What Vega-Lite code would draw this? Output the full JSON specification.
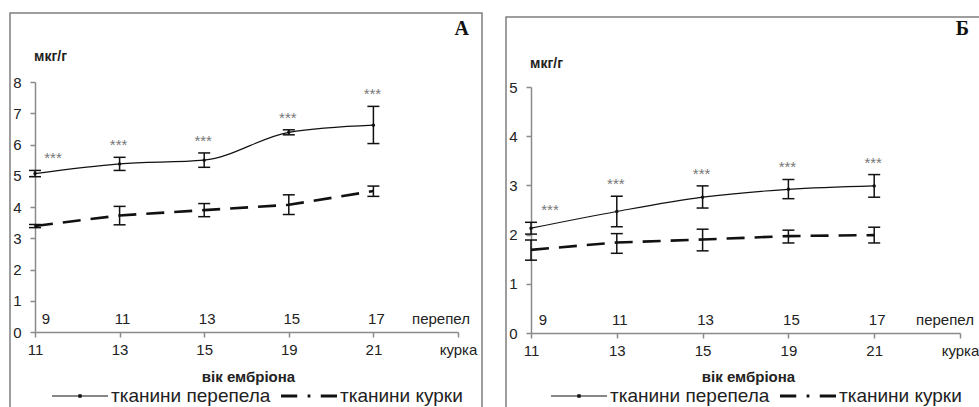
{
  "$schema": "https://vega.github.io/schema/vega-lite/v6.json",
  "padding": {"left": 9, "top": 12, "right": 0, "bottom": 0},
  "bounds": "flush",
  "spacing": 24,
  "center": true,
  "resolve": {"scale": {"x": "independent", "y": "independent", "shape": "independent"}, "legend": {"shape": "independent"}},
  "datasets": {
    "A": [
      {"series": "тканини перепела", "chicken": "11", "quail": "9", "mean": 5.07, "lo": 4.97, "hi": 5.17, "sig": "***"},
      {"series": "тканини перепела", "chicken": "13", "quail": "11", "mean": 5.38, "lo": 5.17, "hi": 5.59, "sig": "***"},
      {"series": "тканини перепела", "chicken": "15", "quail": "13", "mean": 5.5, "lo": 5.27, "hi": 5.73, "sig": "***"},
      {"series": "тканини перепела", "chicken": "19", "quail": "15", "mean": 6.39, "lo": 6.31, "hi": 6.47, "sig": "***"},
      {"series": "тканини перепела", "chicken": "21", "quail": "17", "mean": 6.62, "lo": 6.03, "hi": 7.22, "sig": "***"},
      {"series": "тканини курки", "chicken": "11", "quail": "9", "mean": 3.39, "lo": 3.34, "hi": 3.44},
      {"series": "тканини курки", "chicken": "13", "quail": "11", "mean": 3.73, "lo": 3.43, "hi": 4.02},
      {"series": "тканини курки", "chicken": "15", "quail": "13", "mean": 3.9, "lo": 3.69, "hi": 4.11},
      {"series": "тканини курки", "chicken": "19", "quail": "15", "mean": 4.07, "lo": 3.76, "hi": 4.39},
      {"series": "тканини курки", "chicken": "21", "quail": "17", "mean": 4.51, "lo": 4.34, "hi": 4.67}
    ],
    "B": [
      {"series": "тканини перепела", "chicken": "11", "quail": "9", "mean": 2.13, "lo": 2.01, "hi": 2.25, "sig": "***"},
      {"series": "тканини перепела", "chicken": "13", "quail": "11", "mean": 2.47, "lo": 2.16, "hi": 2.78, "sig": "***"},
      {"series": "тканини перепела", "chicken": "15", "quail": "13", "mean": 2.76, "lo": 2.54, "hi": 2.99, "sig": "***"},
      {"series": "тканини перепела", "chicken": "19", "quail": "15", "mean": 2.92, "lo": 2.73, "hi": 3.12, "sig": "***"},
      {"series": "тканини перепела", "chicken": "21", "quail": "17", "mean": 2.99, "lo": 2.76, "hi": 3.22, "sig": "***"},
      {"series": "тканини курки", "chicken": "11", "quail": "9", "mean": 1.69, "lo": 1.48, "hi": 1.89},
      {"series": "тканини курки", "chicken": "13", "quail": "11", "mean": 1.84, "lo": 1.62, "hi": 2.02},
      {"series": "тканини курки", "chicken": "15", "quail": "13", "mean": 1.9, "lo": 1.67, "hi": 2.11},
      {"series": "тканини курки", "chicken": "19", "quail": "15", "mean": 1.97, "lo": 1.83, "hi": 2.09},
      {"series": "тканини курки", "chicken": "21", "quail": "17", "mean": 1.99, "lo": 1.83, "hi": 2.15}
    ]
  },
  "hconcat": [
    {
      "width": 472,
      "height": 400,
      "title": {"text": "A", "anchor": "end", "frame": "group", "offset": -26, "dx": -13, "font": "Liberation Serif", "fontSize": 20, "fontWeight": "bold", "color": "#111"},
      "data": {"name": "A"},
      "encoding": {
        "x": {"field": "chicken", "type": "ordinal",
          "scale": {"type": "point", "domain": ["11", "13", "15", "19", "21", "курка"], "range": [25, 448], "padding": 0},
          "axis": {"offset": -81, "labelAngle": 0, "labelFlush": false, "labelOverlap": false, "labelPadding": 5,
            "title": "вік ембріона", "titleX": 238, "titleY": 44, "titleAlign": "center", "titleBaseline": "middle", "titleFontSize": 15, "titleFontWeight": "bold"}}
      },
      "layer": [
        {"transform": [{"filter": "datum.series === 'тканини курки'"}],
          "mark": {"type": "line", "color": "#111", "strokeWidth": 2.6, "strokeDash": [18, 10]},
          "encoding": {"y": {"field": "mean", "type": "quantitative", "scale": {"domain": [0, 8], "range": [319, 69], "nice": false, "zero": false},
            "axis": {"values": [0, 1, 2, 3, 4, 5, 6, 7, 8], "format": "d", "offset": -25, "labelPadding": 9, "title": "мкг/г", "titleAngle": 0, "titleX": 15, "titleY": 43, "titleAlign": "center", "titleBaseline": "middle", "titleFontSize": 14, "titleFontWeight": "bold"}}}},
        {"transform": [{"filter": "datum.series === 'тканини перепела'"}],
          "mark": {"type": "line", "interpolate": "monotone", "color": "#111", "strokeWidth": 1.2},
          "encoding": {"y": {"field": "mean", "type": "quantitative", "scale": {"domain": [0, 8], "range": [319, 69], "nice": false, "zero": false}}}},
        {"mark": {"type": "rule", "color": "#111", "strokeWidth": 1.5},
          "encoding": {"y": {"field": "lo", "type": "quantitative", "scale": {"domain": [0, 8], "range": [319, 69], "nice": false, "zero": false}}, "y2": {"field": "hi"}}},
        {"mark": {"type": "tick", "orient": "horizontal", "size": 12, "thickness": 1.5, "color": "#111", "opacity": 1},
          "encoding": {"y": {"field": "lo", "type": "quantitative", "scale": {"domain": [0, 8], "range": [319, 69], "nice": false, "zero": false}}}},
        {"mark": {"type": "tick", "orient": "horizontal", "size": 12, "thickness": 1.5, "color": "#111", "opacity": 1},
          "encoding": {"y": {"field": "hi", "type": "quantitative", "scale": {"domain": [0, 8], "range": [319, 69], "nice": false, "zero": false}}}},
        {"transform": [{"filter": "datum.series === 'тканини перепела'"}],
          "mark": {"type": "circle", "size": 12, "color": "#111", "opacity": 1},
          "encoding": {"y": {"field": "mean", "type": "quantitative", "scale": {"domain": [0, 8], "range": [319, 69], "nice": false, "zero": false}}}},
        {"mark": {"type": "point", "filled": true, "size": 1, "color": "#111", "opacity": 1},
          "encoding": {"y": {"field": "mean", "type": "quantitative", "scale": {"domain": [0, 8], "range": [319, 69], "nice": false, "zero": false}},
            "shape": {"field": "series", "type": "nominal",
              "scale": {"domain": ["тканини перепела", "тканини курки"], "range": ["M-1,-0.02H1V0.02H-1Z M-0.06,-0.06H0.06V0.06H-0.06Z", "M-1,-0.055H-0.42V0.055H-1Z M-0.05,-0.05H0.05V0.05H-0.05Z M0.42,-0.055H1V0.055H0.42Z"]},
              "legend": {"orient": "none", "legendX": 42, "legendY": 355, "direction": "horizontal", "title": null, "labelFontSize": 19, "labelColor": "#222", "labelOffset": 3, "columnPadding": 10, "symbolSize": 3136, "symbolOpacity": 1, "symbolStrokeWidth": 0, "symbolFillColor": "#111", "labelLimit": 400, "padding": 0}}}},
        {"transform": [{"filter": "datum.series === 'тканини перепела' && datum.chicken !== '11'"}],
          "mark": {"type": "text", "dy": -12, "dx": -1, "fontSize": 15, "color": "#777"},
          "encoding": {"y": {"field": "hi", "type": "quantitative", "scale": {"domain": [0, 8], "range": [319, 69], "nice": false, "zero": false}}, "text": {"field": "sig"}}},
        {"transform": [{"filter": "datum.series === 'тканини перепела' && datum.chicken === '11'"}],
          "mark": {"type": "text", "dy": -12, "dx": 18, "fontSize": 15, "color": "#777"},
          "encoding": {"y": {"field": "hi", "type": "quantitative", "scale": {"domain": [0, 8], "range": [319, 69], "nice": false, "zero": false}}, "text": {"field": "sig"}}},
        {"transform": [{"filter": "datum.series === 'тканини перепела' && datum.chicken !== '11'"}],
          "mark": {"type": "text", "dy": -13, "dx": 3, "fontSize": 15, "color": "#222"},
          "encoding": {"y": {"datum": 0, "type": "quantitative", "scale": {"domain": [0, 8], "range": [319, 69], "nice": false, "zero": false}}, "text": {"field": "quail"}}},
        {"transform": [{"filter": "datum.series === 'тканини перепела' && datum.chicken === '11'"}],
          "mark": {"type": "text", "dy": -13, "dx": 11, "fontSize": 15, "color": "#222"},
          "encoding": {"y": {"datum": 0, "type": "quantitative", "scale": {"domain": [0, 8], "range": [319, 69], "nice": false, "zero": false}}, "text": {"field": "quail"}}},
        {"data": {"values": [{"label": "перепел"}]},
          "mark": {"type": "text", "dy": -13, "dx": -17, "fontSize": 15, "color": "#222"},
          "encoding": {"x": {"datum": "курка"}, "y": {"datum": 0, "type": "quantitative", "scale": {"domain": [0, 8], "range": [319, 69], "nice": false, "zero": false}}, "text": {"field": "label"}}}
      ]
    },
    {
      "width": 480,
      "height": 392,
      "title": {"text": "Б", "anchor": "end", "frame": "group", "offset": -22, "dx": -17, "font": "Liberation Serif", "fontSize": 20, "fontWeight": "bold", "color": "#111"},
      "data": {"name": "B"},
      "encoding": {
        "x": {"field": "chicken", "type": "ordinal",
          "scale": {"type": "point", "domain": ["11", "13", "15", "19", "21", "курка"], "range": [25, 454], "padding": 0},
          "axis": {"offset": -76, "labelAngle": 0, "labelFlush": false, "labelOverlap": false, "labelPadding": 5,
            "title": "вік ембріона", "titleX": 242, "titleY": 43, "titleAlign": "center", "titleBaseline": "middle", "titleFontSize": 15, "titleFontWeight": "bold"}}
      },
      "layer": [
        {"transform": [{"filter": "datum.series === 'тканини курки'"}],
          "mark": {"type": "line", "color": "#111", "strokeWidth": 2.6, "strokeDash": [18, 10]},
          "encoding": {"y": {"field": "mean", "type": "quantitative", "scale": {"domain": [0, 5], "range": [316, 70], "nice": false, "zero": false},
            "axis": {"values": [0, 1, 2, 3, 4, 5], "format": "d", "offset": -25, "labelPadding": 9, "title": "мкг/г", "titleAngle": 0, "titleX": 15, "titleY": 46, "titleAlign": "center", "titleBaseline": "middle", "titleFontSize": 14, "titleFontWeight": "bold"}}}},
        {"transform": [{"filter": "datum.series === 'тканини перепела'"}],
          "mark": {"type": "line", "interpolate": "monotone", "color": "#111", "strokeWidth": 1.2},
          "encoding": {"y": {"field": "mean", "type": "quantitative", "scale": {"domain": [0, 5], "range": [316, 70], "nice": false, "zero": false}}}},
        {"mark": {"type": "rule", "color": "#111", "strokeWidth": 1.5},
          "encoding": {"y": {"field": "lo", "type": "quantitative", "scale": {"domain": [0, 5], "range": [316, 70], "nice": false, "zero": false}}, "y2": {"field": "hi"}}},
        {"mark": {"type": "tick", "orient": "horizontal", "size": 12, "thickness": 1.5, "color": "#111", "opacity": 1},
          "encoding": {"y": {"field": "lo", "type": "quantitative", "scale": {"domain": [0, 5], "range": [316, 70], "nice": false, "zero": false}}}},
        {"mark": {"type": "tick", "orient": "horizontal", "size": 12, "thickness": 1.5, "color": "#111", "opacity": 1},
          "encoding": {"y": {"field": "hi", "type": "quantitative", "scale": {"domain": [0, 5], "range": [316, 70], "nice": false, "zero": false}}}},
        {"transform": [{"filter": "datum.series === 'тканини перепела'"}],
          "mark": {"type": "circle", "size": 12, "color": "#111", "opacity": 1},
          "encoding": {"y": {"field": "mean", "type": "quantitative", "scale": {"domain": [0, 5], "range": [316, 70], "nice": false, "zero": false}}}},
        {"mark": {"type": "point", "filled": true, "size": 1, "color": "#111", "opacity": 1},
          "encoding": {"y": {"field": "mean", "type": "quantitative", "scale": {"domain": [0, 5], "range": [316, 70], "nice": false, "zero": false}},
            "shape": {"field": "series", "type": "nominal",
              "scale": {"domain": ["тканини перепела", "тканини курки"], "range": ["M-1,-0.02H1V0.02H-1Z M-0.06,-0.06H0.06V0.06H-0.06Z", "M-1,-0.055H-0.42V0.055H-1Z M-0.05,-0.05H0.05V0.05H-0.05Z M0.42,-0.055H1V0.055H0.42Z"]},
              "legend": {"orient": "none", "legendX": 45, "legendY": 351, "direction": "horizontal", "title": null, "labelFontSize": 19, "labelColor": "#222", "labelOffset": 3, "columnPadding": 10, "symbolSize": 3136, "symbolOpacity": 1, "symbolStrokeWidth": 0, "symbolFillColor": "#111", "labelLimit": 400, "padding": 0}}}},
        {"transform": [{"filter": "datum.series === 'тканини перепела' && datum.chicken !== '11'"}],
          "mark": {"type": "text", "dy": -12, "dx": -1, "fontSize": 15, "color": "#777"},
          "encoding": {"y": {"field": "hi", "type": "quantitative", "scale": {"domain": [0, 5], "range": [316, 70], "nice": false, "zero": false}}, "text": {"field": "sig"}}},
        {"transform": [{"filter": "datum.series === 'тканини перепела' && datum.chicken === '11'"}],
          "mark": {"type": "text", "dy": -12, "dx": 19, "fontSize": 15, "color": "#777"},
          "encoding": {"y": {"field": "hi", "type": "quantitative", "scale": {"domain": [0, 5], "range": [316, 70], "nice": false, "zero": false}}, "text": {"field": "sig"}}},
        {"transform": [{"filter": "datum.series === 'тканини перепела' && datum.chicken !== '11'"}],
          "mark": {"type": "text", "dy": -13, "dx": 3, "fontSize": 15, "color": "#222"},
          "encoding": {"y": {"datum": 0, "type": "quantitative", "scale": {"domain": [0, 5], "range": [316, 70], "nice": false, "zero": false}}, "text": {"field": "quail"}}},
        {"transform": [{"filter": "datum.series === 'тканини перепела' && datum.chicken === '11'"}],
          "mark": {"type": "text", "dy": -13, "dx": 12, "fontSize": 15, "color": "#222"},
          "encoding": {"y": {"datum": 0, "type": "quantitative", "scale": {"domain": [0, 5], "range": [316, 70], "nice": false, "zero": false}}, "text": {"field": "quail"}}},
        {"data": {"values": [{"label": "перепел"}]},
          "mark": {"type": "text", "dy": -13, "dx": -15, "fontSize": 15, "color": "#222"},
          "encoding": {"x": {"datum": "курка"}, "y": {"datum": 0, "type": "quantitative", "scale": {"domain": [0, 5], "range": [316, 70], "nice": false, "zero": false}}, "text": {"field": "label"}}}
      ]
    }
  ],
  "config": {
    "font": "Liberation Sans",
    "view": {"stroke": "#7f7f7f", "strokeWidth": 1.5},
    "axis": {"grid": false, "domainColor": "#8a8a8a", "domainWidth": 1.5, "tickColor": "#8a8a8a", "tickWidth": 1.5, "tickSize": 5, "labelColor": "#222", "labelFontSize": 15, "labelFont": "Liberation Sans", "titleColor": "#222", "titleFont": "Liberation Sans"}
  }
}
